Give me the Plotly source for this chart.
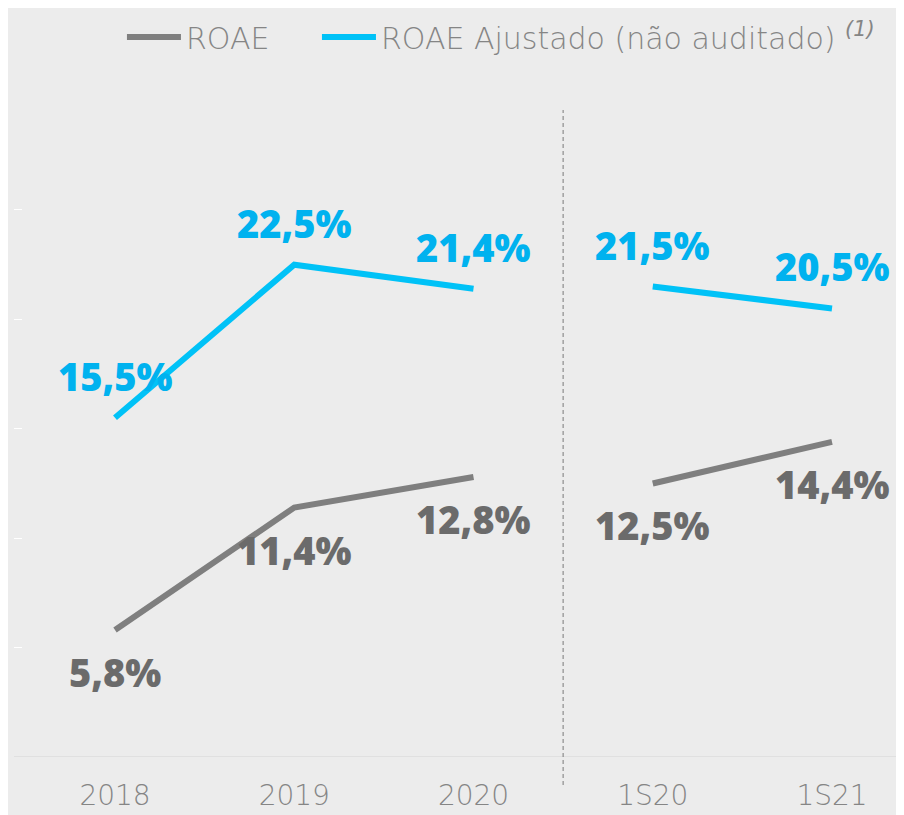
import plotly.graph_objects as go

categories = ["2018", "2019", "2020", "1S20", "1S21"]
x_pos = [0, 1, 2, 3, 4]
roae = [5.8, 11.4, 12.8, 12.5, 14.4]
roae_adj = [15.5, 22.5, 21.4, 21.5, 20.5]
labels_roae = ["5,8%", "11,4%", "12,8%", "12,5%", "14,4%"]
labels_adj = ["15,5%", "22,5%", "21,4%", "21,5%", "20,5%"]
ytick_vals = [0, 5, 10, 15, 20, 25]

GRAY = "#7f7f7f"
GRAY_TXT = "#6b6b6b"
CYAN = "#00c2f7"
CYAN_TXT = "#00b2ef"
BG = "#ececec"
LEG_FONT = dict(family="DejaVu Sans", size=30, color="#858585", weight=200)

fig = go.Figure()

segments = [(0, 3), (3, 5)]
for si, (a, b) in enumerate(segments):
    fig.add_trace(go.Scatter(
        x=x_pos[a:b], y=roae[a:b], mode="lines",
        line=dict(color=GRAY, width=6), name="ROAE",
        legend="legend", legendgroup="roae", showlegend=(si == 0), hoverinfo="skip"))
for si, (a, b) in enumerate(segments):
    fig.add_trace(go.Scatter(
        x=x_pos[a:b], y=roae_adj[a:b], mode="lines",
        line=dict(color=CYAN, width=6),
        name="ROAE Ajustado (não auditado) <sup><i>(1)</i></sup>",
        legend="legend2", legendgroup="adj", showlegend=(si == 0), hoverinfo="skip"))

annotations = []
for xi, v, t in zip(x_pos, roae, labels_roae):
    annotations.append(dict(x=xi, y=v, text=t, showarrow=False, yshift=-42,
                            font=dict(family="Open Sans", size=38, color=GRAY_TXT, weight=800)))
for xi, v, t in zip(x_pos, roae_adj, labels_adj):
    annotations.append(dict(x=xi, y=v, text=t, showarrow=False, yshift=42,
                            font=dict(family="Open Sans", size=38, color=CYAN_TXT, weight=800)))

fig.update_layout(
    width=896, height=807,
    margin=dict(l=6, r=0, t=0, b=58, autoexpand=False),
    paper_bgcolor=BG, plot_bgcolor=BG,
    showlegend=True,
    legend=dict(orientation="h", x=0.1213, y=0.9613, xanchor="left", yanchor="middle",
                font=LEG_FONT, bgcolor="rgba(0,0,0,0)", itemwidth=54),
    legend2=dict(orientation="h", x=0.3404, y=0.9613, xanchor="left", yanchor="middle",
                 font=LEG_FONT, bgcolor="rgba(0,0,0,0)", itemwidth=54),
    xaxis=dict(range=[-0.5635, 4.4017], tickvals=x_pos, ticktext=categories,
               showgrid=False, zeroline=False, showline=False, automargin=False,
               ticks="outside", ticklen=13, tickcolor="rgba(0,0,0,0)",
               tickfont=dict(family="DejaVu Sans", size=28, color="#858585", weight=200)),
    yaxis=dict(range=[0, 34.23], tickvals=ytick_vals, showticklabels=False,
               showgrid=False, zeroline=False, showline=False, automargin=False,
               ticks="inside", ticklen=8, tickcolor="#ffffff", tickwidth=1),
    annotations=annotations,
    shapes=[
        dict(type="line", xref="paper", yref="y", x0=0, x1=1, y0=0, y1=0,
             line=dict(color="#e0e0e0", width=2), layer="below"),
        dict(type="line", xref="x", yref="paper", x0=2.5, x1=2.5, y0=-0.0374, y1=0.8638,
             line=dict(color="#7a7a7a", width=1, dash="4px,3px")),
    ],
)

fig.write_html("out.html")
